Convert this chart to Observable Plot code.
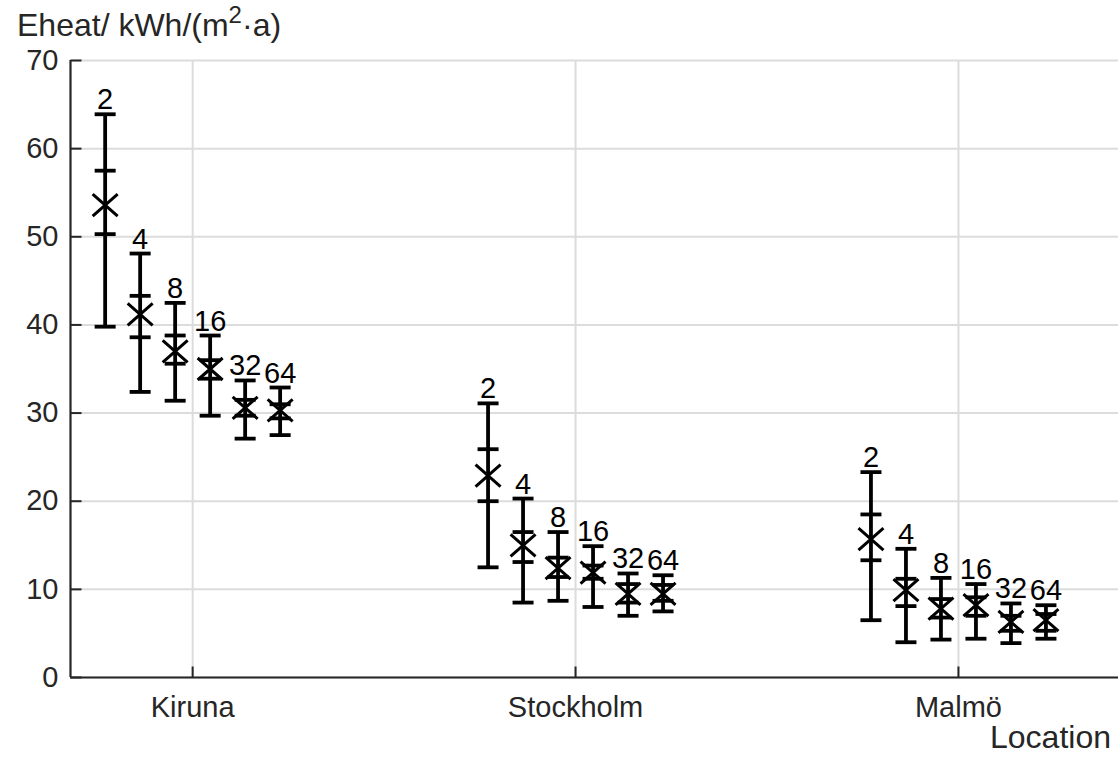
<!DOCTYPE html>
<html>
<head>
<meta charset="utf-8">
<script src="https://cdn.jsdelivr.net/npm/d3@7"></script>
<script src="https://cdn.jsdelivr.net/npm/@observablehq/plot@0.6"></script>
<style>
  html, body { margin: 0; padding: 0; background: #fff; }
  #wrap { position: relative; width: 1118px; height: 757px; font-family: "Liberation Sans", Arial, sans-serif; }
  .lbl { position: absolute; line-height: 0.8; font-size: 32px; color: #262626; white-space: nowrap; }
  .lbl sup { font-size: 24px; vertical-align: 0; position: relative; top: -13px; line-height: 0; }
</style>
</head>
<body>
<div id="wrap">
  <div id="chart"></div>
  <div class="lbl" style="left:17px; top:13px;">Eheat/ kWh/(m<sup>2</sup>·a)</div>
  <div class="lbl" style="right:7px; top:725px;">Location</div>
</div>
<script>
// ---- data ----
const locations = ["Kiruna", "Stockholm", "Malmö"];
const groups = [2, 4, 8, 16, 32, 64];

const maxKiruna    = [63.9, 48.1, 42.5, 38.8, 33.7, 32.9];
const upperKiruna  = [57.5, 43.3, 38.8, 36.0, 31.5, 31.0];
const meanKiruna   = [53.6, 41.2, 37.0, 35.0, 30.6, 30.3];
const lowerKiruna  = [50.3, 38.6, 35.6, 33.9, 29.7, 29.4];
const minKiruna    = [39.8, 32.4, 31.4, 29.7, 27.1, 27.5];

const maxStockholm   = [31.1, 20.3, 16.5, 14.9, 11.8, 11.6];
const upperStockholm = [25.9, 16.5, 13.6, 12.7, 10.6, 10.5];
const meanStockholm  = [22.9, 15.0, 12.4, 11.9, 9.5, 9.5];
const lowerStockholm = [20.0, 13.1, 11.4, 11.2, 8.5, 8.7];
const minStockholm   = [12.5, 8.5, 8.7, 8.0, 7.0, 7.5];

const maxMalmo   = [23.3, 14.6, 11.3, 10.6, 8.4, 8.2];
const upperMalmo = [18.5, 11.2, 8.9, 9.1, 7.0, 7.2];
const meanMalmo  = [15.7, 9.9, 7.8, 8.2, 6.3, 6.5];
const lowerMalmo = [13.3, 8.1, 6.8, 7.0, 5.3, 5.3];
const minMalmo   = [6.5, 4.0, 4.3, 4.4, 3.9, 4.4];

const yTicks = [0, 10, 20, 30, 40, 50, 60, 70];

// ---- build table ----
const series = [
  {max: maxKiruna, upper: upperKiruna, mean: meanKiruna, lower: lowerKiruna, min: minKiruna},
  {max: maxStockholm, upper: upperStockholm, mean: meanStockholm, lower: lowerStockholm, min: minStockholm},
  {max: maxMalmo, upper: upperMalmo, mean: meanMalmo, lower: lowerMalmo, min: minMalmo}
];
const spacing = 0.0914;
const rows = [];
series.forEach((s, i) => {
  groups.forEach((g, k) => {
    rows.push({
      loc: locations[i], group: g,
      x: i + 1 + (k - (groups.length - 1) / 2) * spacing,
      max: s.max[k], upper: s.upper[k], mean: s.mean[k], lower: s.lower[k], min: s.min[k]
    });
  });
});

const xDomain = [0.681, 3.418];
const hLine = {draw(ctx, size) { const w = Math.sqrt(size / Math.PI); ctx.moveTo(-w, 0); ctx.lineTo(w, 0); }};
const rightTick = {draw(ctx, size) { const w = Math.sqrt(size / Math.PI); ctx.moveTo(0, 0); ctx.lineTo(w, 0); }};
const upTick = {draw(ctx, size) { const w = Math.sqrt(size / Math.PI); ctx.moveTo(0, 0); ctx.lineTo(0, -w); }};
const xMarker = {draw(ctx, size) { const w = Math.sqrt(size / Math.PI); ctx.moveTo(-w, -w * 0.88); ctx.lineTo(w, w * 0.88); ctx.moveTo(-w, w * 0.88); ctx.lineTo(w, -w * 0.88); }};

const axisColor = "#262626";
const gridColor = "#dcdcdc";
const barW = 3.8;

const chart = Plot.plot({
  width: 1118,
  height: 757,
  marginLeft: 70,
  marginRight: 0,
  marginTop: 60,
  marginBottom: 80,
  x: {domain: xDomain, axis: null},
  y: {domain: [0, 70], axis: null},
  style: {fontFamily: "'Liberation Sans', Arial, sans-serif", fontSize: "29px", background: "#fff", color: axisColor},
  marks: [
    Plot.ruleY(yTicks, {y: d => d, stroke: gridColor, strokeWidth: 2}),
    Plot.ruleX([1, 2, 3], {x: d => d, stroke: gridColor, strokeWidth: 2}),
    Plot.axisY({ticks: yTicks, tickSize: 0, tickPadding: 12, label: null, fontSize: 29, fill: axisColor}),
    Plot.axisX({ticks: [1, 2, 3], tickFormat: d => locations[d - 1], tickSize: 0, tickPadding: 19, label: null, fontSize: 29, fill: axisColor}),
    // axis lines and inward ticks
    Plot.ruleX([xDomain[0]], {x: d => d, stroke: axisColor, strokeWidth: 2.2}),
    Plot.ruleY([0], {y: d => d, stroke: axisColor, strokeWidth: 2.2}),
    Plot.dot(yTicks, {x: () => xDomain[0], y: d => d, symbol: rightTick, r: 11, stroke: axisColor, strokeWidth: 2}),
    Plot.dot([1, 2, 3], {x: d => d, y: () => 0, symbol: upTick, r: 11, stroke: axisColor, strokeWidth: 2}),
    // error bars
    Plot.ruleX(rows, {x: "x", y1: "min", y2: "max", stroke: "#000", strokeWidth: barW}),
    Plot.dot(rows, {x: "x", y: "max", symbol: hLine, r: 10.5, stroke: "#000", strokeWidth: barW}),
    Plot.dot(rows, {x: "x", y: "min", symbol: hLine, r: 10.5, stroke: "#000", strokeWidth: barW}),
    Plot.dot(rows, {x: "x", y: "upper", symbol: hLine, r: 10.5, stroke: "#000", strokeWidth: barW}),
    Plot.dot(rows, {x: "x", y: "lower", symbol: hLine, r: 10.5, stroke: "#000", strokeWidth: barW}),
    Plot.dot(rows, {x: "x", y: "mean", symbol: xMarker, r: 12.5, stroke: "#000", strokeWidth: 3}),
    Plot.text(rows, {x: "x", y: "max", text: d => String(d.group), lineAnchor: "bottom", dy: -5, fontSize: 29, fill: "#000"})
  ]
});
document.getElementById("chart").appendChild(chart);
</script>
</body>
</html>
